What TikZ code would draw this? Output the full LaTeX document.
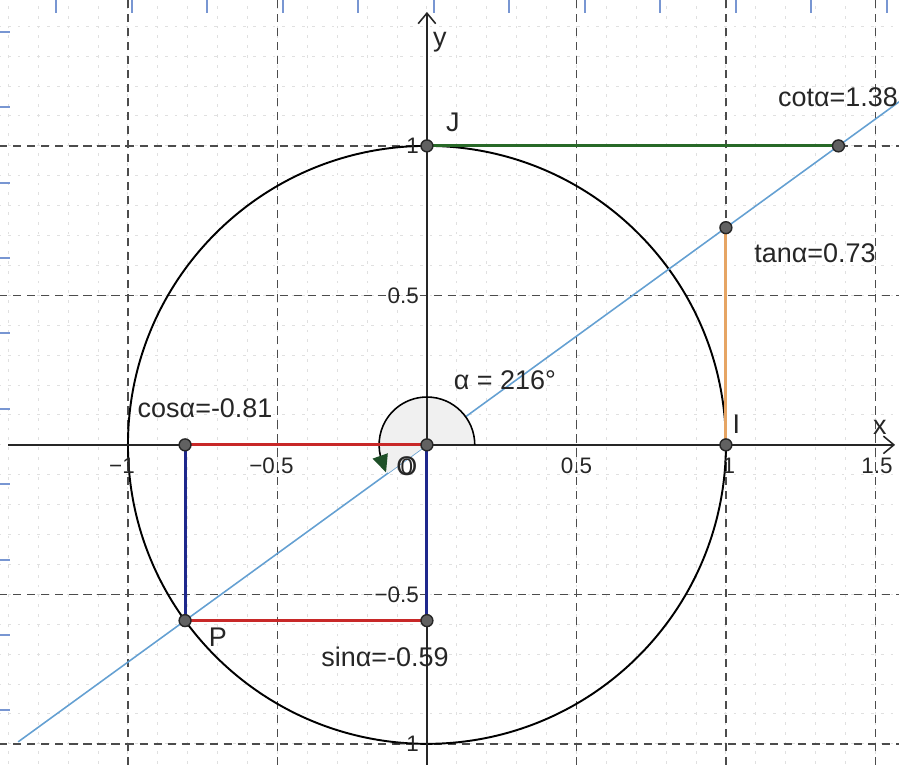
\documentclass[tikz,border=0pt]{standalone}
\usepackage{fontspec}
\setmainfont{Liberation Sans}
\usetikzlibrary{arrows.meta, calc}
\definecolor{rayblue}{RGB}{100,160,210}
\definecolor{cosred}{RGB}{200,40,40}
\definecolor{sinnavy}{RGB}{30,40,140}
\definecolor{tanorange}{RGB}{230,165,100}
\definecolor{cotgreen}{RGB}{40,105,40}
\definecolor{arcgreen}{RGB}{30,80,40}
\definecolor{scanblue}{RGB}{120,150,210}
\tikzset{
  axis/.style    = {line width=0.45pt, draw=black!85},
  major/.style   = {line width=0.45pt, draw=black!70, dash pattern=on 2.3pt off 1.7pt},
  minor/.style   = {line width=0.3pt, draw=black!12, dash pattern=on 0.8pt off 2pt},
  unitcirc/.style= {line width=0.55pt, draw=black},
  ray/.style     = {line width=0.45pt, draw=rayblue},
  seg/.style     = {line width=0.85pt},
  pt/.style      = {circle, fill=black!62, draw=black!85, line width=0.4pt,
                    inner sep=0pt, minimum size=3.4pt},
  lbl/.style     = {font=\fontsize{7.7}{9}\selectfont, inner sep=0pt, text=black!85},
  tick/.style    = {font=\fontsize{6.4}{7.5}\selectfont, inner sep=0pt, text=black!85},
  scan/.style    = {line width=0.4pt, draw=scanblue},
  tip/.style     = {-{Straight Barb[length=3pt,width=5pt]}}
}

\begin{document}
\begin{tikzpicture}[x=3cm, y=3cm]
  \useasboundingbox (-1.428,-1.070) rectangle (1.579,1.488);
  % grids
  \draw[minor] (-1.5,-1.1) grid[step=0.1] (1.6,1.5);
  \foreach \gx in {-1,-0.5,0.5,1,1.5} \draw[major] (\gx,-1.07) -- (\gx,1.49);
  \foreach \gy in {-1,-0.5,0.5,1} \draw[major] (-1.43,\gy) -- (1.58,\gy);
  % paper marks
  \foreach \py in {32,107,183,258,333,409,484,560,635,710}
    \draw[scan] ({-427/299},{(445-\py)/299}) -- ++(0.033,0);
  \foreach \px in {56,132,207,283,358,434,509,585,660,736,811,887}
    \draw[scan] ({(\px-427)/299},{445/299}) -- ++(0,-0.043);
  % points
  \coordinate (O) at (0,0);
  \coordinate (P) at (216:1);
  \coordinate (C) at (P |- O);
  \coordinate (S) at (P -| O);
  \coordinate (I) at (1,0);
  \coordinate (J) at (0,1);
  \coordinate (T) at (1,0.7265);
  \coordinate (K) at (1.3764,1);
  \coordinate (xl) at (-1.40,0);
  \coordinate (xr) at (1.566,0);
  \coordinate (yb) at (0,-1.07);
  \coordinate (yt) at (0,1.448);
  % circle and line OP
  \draw[unitcirc] (O) circle[radius=1];
  \draw[ray] ($(O)!1.69!(P)$) -- ($(O)!-1.98!(P)$);
  % angle
  \fill[black!6] (O) -- (0:0.16) arc[start angle=0, end angle=216, radius=0.16] -- cycle;
  % axes
  \draw[axis,tip] (xl) -- (xr);
  \draw[axis,tip] (yb) -- (yt);
  \draw[line width=0.45pt] (0:0.16) arc[start angle=0, end angle=200, radius=0.16];
  \draw[line width=0.45pt, -{Triangle[length=5pt,width=4.5pt,color=arcgreen]}]
    (196:0.16) -- (214:0.165);
  % segments
  \draw[seg, cosred]    (C) -- (O);
  \draw[seg, cosred]    (P) -- (S);
  \draw[seg, sinnavy]   (C) -- (P);
  \draw[seg, sinnavy]   (O) -- (S);
  \draw[seg, tanorange] (I) -- (T);
  \draw[seg, cotgreen]  (J) -- (K);
  \foreach \p in {O,I,J,P,C,S,T,K} \node[pt] (\p dot) at (\p) {};
  % tick labels
  \node[tick] (xm1)  at (-1.02,-0.070)  {−1};
  \node[tick] (xm05) at (-0.52,-0.070)  {−0.5};
  \node[tick] (x0)   at (-0.067,-0.072) {0};
  \node[tick] (x05)  at (0.50,-0.070)   {0.5};
  \node[tick] (x1)   at (1.01,-0.070)   {1};
  \node[tick] (x15)  at (1.505,-0.070)  {1.5};
  \node[tick, anchor=east] (y1)   at (-0.025,1)    {1};
  \node[tick, anchor=east] (y05)  at (-0.025,0.5)  {0.5};
  \node[tick, anchor=east] (ym05) at (-0.025,-0.5) {−0.5};
  \node[tick, anchor=east] (ym1)  at (-0.025,-1)   {−1};
  % labels
  \node[lbl] (xlab)   at (1.515,0.057)   {x};
  \node[lbl] (ylab)   at (0.043,1.348)   {y};
  \node[lbl] (Jlab)   at (0.087,1.080)   {J};
  \node[lbl] (Ilab)   at (1.035,0.068)   {I};
  \node[lbl] (Plab)   at (-0.699,-0.645) {P};
  \node[lbl] (Olab)   at (-0.067,-0.072) {O};
  \node[lbl] (alab)   at (0.261,0.217)   {α = 216°};
  \node[lbl] (coslab) at (-0.742,0.124)  {cosα=-0.81};
  \node[lbl] (sinlab) at (-0.140,-0.709) {sinα=-0.59};
  \node[lbl] (tanlab) at (1.298,0.642)   {tanα=0.73};
  \node[lbl] (cotlab) at (1.375,1.164)   {cotα=1.38};
\end{tikzpicture}
\end{document}
